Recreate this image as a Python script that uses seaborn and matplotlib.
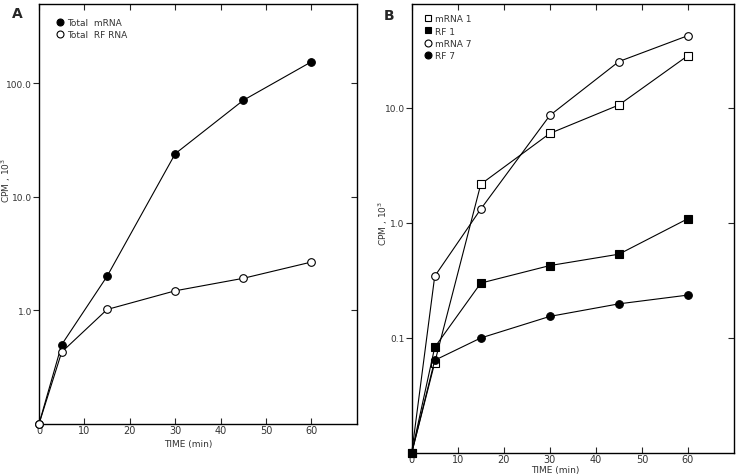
import matplotlib
matplotlib.use("Agg")
import matplotlib.pyplot as plt
import seaborn as sns
import pandas as pd
from matplotlib.lines import Line2D

sns.set_theme(style="white")
plt.rcParams['font.family'] = ['DejaVu Sans']

time = [0, 5, 15, 30, 45, 60]

# Panel A (CPM x 10^3)
total_mrna = [0.1, 0.50, 2.0, 24.0, 71.0, 155.0]
total_rf_rna = [0.1, 0.43, 1.02, 1.49, 1.92, 2.67]

# Panel B (CPM x 10^3)
mrna1 = [0.01, 0.061, 2.17, 6.0, 10.6, 28.5]
rf1 = [0.01, 0.083, 0.30, 0.426, 0.535, 1.09]
mrna7 = [0.01, 0.344, 1.32, 8.6, 25.3, 42.5]
rf7 = [0.01, 0.064, 0.10, 0.154, 0.198, 0.236]

x_ticks = [0, 10, 20, 30, 40, 50, 60]
a_yticks = [1.0, 10.0, 100.0]
a_ylabels = ["1.0", "10.0", "100.0"]
b_yticks = [0.1, 1.0, 10.0]
b_ylabels = ["0.1", "1.0", "10.0"]

fig = plt.figure(figsize=(7.41, 4.77), dpi=100)
axA = fig.add_axes([0.0526, 0.109, 0.429, 0.8805])
axB = fig.add_axes([0.5556, 0.0482, 0.435, 0.9413])

def draw(ax, y, marker, filled):
    df = pd.DataFrame({"t": time, "v": y})
    sns.lineplot(data=df, x="t", y="v", ax=ax, color="black", linewidth=0.8,
                 marker=marker, markersize=5.5 if marker == 'o' else 6,
                 markerfacecolor="black" if filled else "white",
                 markeredgecolor="black", markeredgewidth=0.8,
                 clip_on=False, zorder=3)

draw(axA, total_mrna, 'o', True)
draw(axA, total_rf_rna, 'o', False)
draw(axB, mrna1, 's', False)
draw(axB, rf1, 's', True)
draw(axB, mrna7, 'o', False)
draw(axB, rf7, 'o', True)

def style(ax, ylim, yt, yl, ylab_xy, xlab_xy):
    ax.set_yscale('log')
    ax.set_xlim(0, 70)
    ax.set_ylim(*ylim)
    ax.set_xticks(x_ticks)
    ax.set_xticklabels([str(v) for v in x_ticks], fontsize=7, color="#333333")
    ax.set_yticks(yt)
    ax.set_yticklabels(yl, fontsize=6.5, color="#333333")
    ax.minorticks_off()
    ax.tick_params(axis='x', which='both', direction='in', top=True, bottom=True,
                   length=4, width=0.8, pad=1)
    ax.tick_params(axis='y', which='major', direction='out', left=True, right=True,
                   length=4, width=0.8, pad=1)
    for s in ax.spines.values():
        s.set_color("black")
        s.set_linewidth(1.0)
    ax.set_xlabel("TIME (min)", fontsize=6.5, color="#333333")
    ax.set_ylabel("CPM , $10^3$", fontsize=6.5, color="#333333")
    ax.yaxis.set_label_coords(*ylab_xy)
    ax.xaxis.set_label_coords(*xlab_xy)
    for t in ax.yaxis.get_major_ticks():
        t.tick2line.set_marker(matplotlib.markers.TICKLEFT)

style(axA, (0.1, 500), a_yticks, a_ylabels, (-0.082, 0.583), (0.47, -0.035))
style(axB, (0.01, 80), b_yticks, b_ylabels, (-0.068, 0.514), (0.445, -0.026))

def leg(ax, items, loc_xy):
    handles = [Line2D([], [], linestyle='none', marker=m, color='black',
                      markerfacecolor='black' if f else 'white', markersize=5,
                      markeredgewidth=0.8) for m, f, _ in items]
    labels = [lab for _, _, lab in items]
    lg = ax.legend(handles, labels, loc='upper left', bbox_to_anchor=loc_xy,
                   frameon=False, fontsize=6.5, handlelength=0.6,
                   handletextpad=0.5, labelspacing=0.35, borderaxespad=0)
    for t in lg.get_texts():
        t.set_color("#333333")

leg(axA, [('o', True, "Total  mRNA"), ('o', False, "Total  RF RNA")], (0.045, 0.975))
leg(axB, [('s', False, "mRNA 1"), ('s', True, "RF 1"), ('o', False, "mRNA 7"),
          ('o', True, "RF 7")], (0.03, 0.985))

fig.text(12 / 741, 1 - 14 / 477, "A", fontsize=10, fontweight='bold', va='center')
fig.text(384 / 741, 1 - 16 / 477, "B", fontsize=10, fontweight='bold', va='center')

fig.savefig("out.png", dpi=100)
